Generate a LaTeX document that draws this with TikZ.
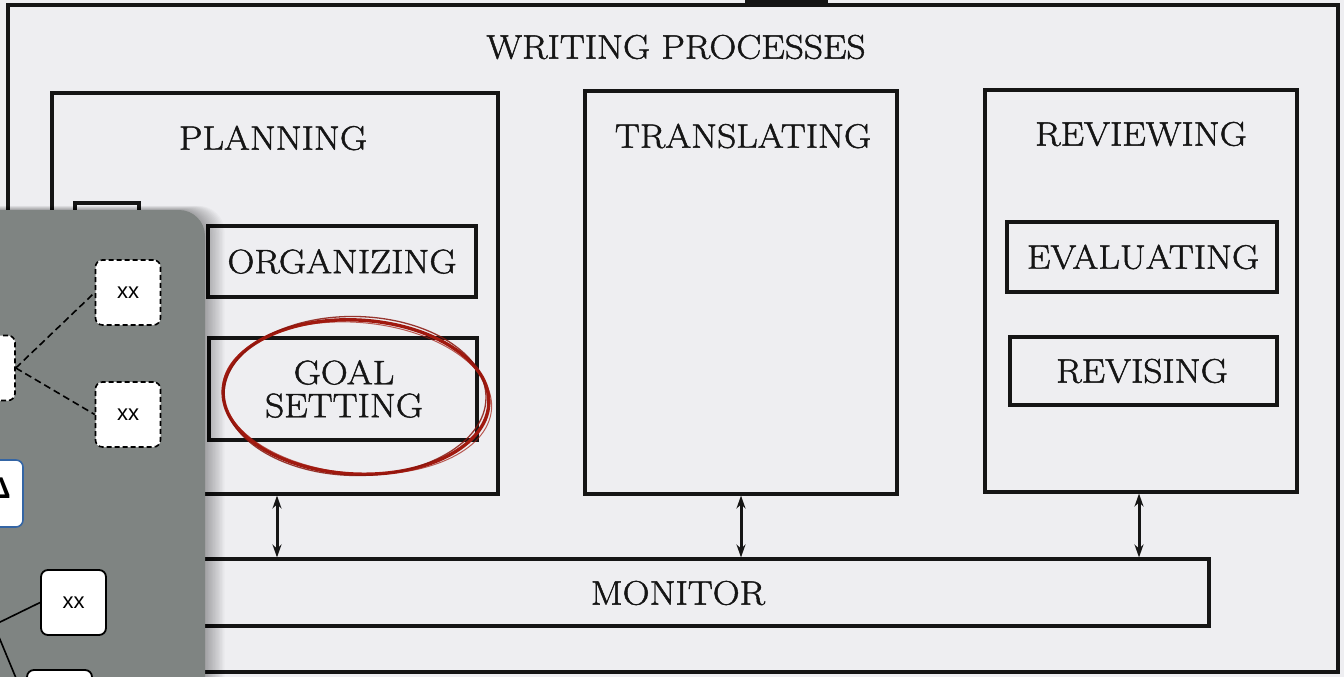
\documentclass[tikz,border=0pt]{standalone}
\usepackage{fontspec}
\setmainfont{Latin Modern Roman}[FakeStretch=1.1, FakeBold=1.4]
\newfontfamily\sansxx{Liberation Sans}
\usetikzlibrary{arrows.meta,calc}
\definecolor{bg}{HTML}{EEEEF1}
\definecolor{ink}{HTML}{151515}
\definecolor{panelgrey}{HTML}{7F8482}
\definecolor{redink}{HTML}{A0190F}
\definecolor{blueedge}{HTML}{3465A4}
\tikzset{
  scanbox/.style={draw=ink, line width=3.1pt, inner sep=0pt},
  lbl/.style={font=\fontsize{34}{34}\selectfont, text=ink, inner sep=0pt, align=center},
  dblarrow/.style={draw=ink, line width=3pt, {Stealth[length=13pt,width=9pt]}-{Stealth[length=13pt,width=9pt]}},
  xxdash/.style={draw=black, dashed, dash pattern=on 5pt off 3pt, line width=1.6pt, fill=white, rounded corners=7pt, minimum width=65pt, minimum height=65pt, inner sep=0pt, font=\sansxx\fontsize{22}{22}\selectfont},
  xxsolid/.style={draw=black, line width=1.8pt, fill=white, rounded corners=7pt, minimum width=65pt, minimum height=65pt, inner sep=0pt, font=\sansxx\fontsize{22}{22}\selectfont},
  xxblue/.style={draw=blueedge, line width=1.6pt, fill=white, rounded corners=7pt, minimum width=68pt, minimum height=67pt, inner sep=0pt},
  link/.style={draw=black, line width=1.6pt},
  dlink/.style={draw=black, line width=1.6pt, dash pattern=on 7pt off 4pt},
}
\begin{document}
\begin{tikzpicture}[x=1pt,y=-1pt]
\useasboundingbox (0,0) rectangle (1344,677);
\clip (0,0) rectangle (1344,677);
\fill[bg] (0,0) rectangle (1344,677);
% scan remnant at top
\fill[ink] (745,-5) rectangle (828,5);

% outer frame
\node[scanbox, minimum width=1330pt, minimum height=667pt] (outer) at (673,338.5) {};
\node[lbl] (title) at (676,47) {WRITING PROCESSES};

% main process boxes
\node[scanbox, minimum width=446pt, minimum height=401pt] (plan) at (275,293.5) {};
\node[scanbox, minimum width=312pt, minimum height=403pt] (trans) at (741,292.5) {};
\node[scanbox, minimum width=312pt, minimum height=402pt] (rev) at (1141,291) {};
\node[lbl] (planlbl) at (273,138) {PLANNING};
\node[lbl] (translbl) at (743,136) {TRANSLATING};
\node[lbl] (revlbl) at (1141,134) {REVIEWING};

% sub-boxes
\node[scanbox, minimum width=64pt, minimum height=56pt] (gen) at (107,231) {};
\node[scanbox, minimum width=268pt, minimum height=71pt] (org) at (342,261.5) {};
\node[lbl] at (org.center) {ORGANIZING};
\node[scanbox, minimum width=268pt, minimum height=102pt] (goal) at (343,389) {};
\node[lbl] at (344,389) {GOAL\\[-1pt]SETTING};
\node[scanbox, minimum width=270pt, minimum height=70pt] (eval) at (1142,257) {};
\node[lbl] at (1143,257) {EVALUATING};
\node[scanbox, minimum width=267pt, minimum height=68pt] (revis) at (1143.5,371) {};
\node[lbl] at (1142,371) {REVISING};

% monitor
\node[scanbox, minimum width=1059pt, minimum height=67pt] (monitor) at (679.5,592.5) {};
\node[lbl] at (678,593) {MONITOR};

% arrows
\coordinate (a1) at (277,0);
\coordinate (a2) at (741,0);
\coordinate (a3) at (1139,0);
\draw[dblarrow] (plan.south -| a1) -- (monitor.north -| a1);
\draw[dblarrow] (trans.south -| a2) -- (monitor.north -| a2);
\draw[dblarrow] (rev.south -| a3) -- (monitor.north -| a3);

% red hand-drawn ellipse
\draw[redink, line width=3.4pt, rotate around={-3:(356,397)}] (356,397) ellipse [x radius=133, y radius=77];
\draw[redink!85!black, line width=1.3pt, opacity=0.85, rotate around={-1:(355,396)}] (355,396) ellipse [x radius=131, y radius=79.5];
\draw[redink, line width=1pt, opacity=0.7, rotate around={-5:(357,398)}] (357,398) ellipse [x radius=135, y radius=75.5];

% overlay panel shadow
\foreach \i in {1,...,14}{
  \fill[black, opacity=0.025, rounded corners=26pt] (-60,{210-\i*0.3}) rectangle ({205+\i*1.4},720);
}
% overlay panel
\fill[panelgrey, rounded corners=26pt] (-60,210) rectangle (205,720);

% overlay nodes
\node[xxdash] (d0) at (-17.5,368) {};
\node[xxdash] (d1) at (128,292.5) {xx};
\node[xxdash] (d2) at (128,414.5) {xx};
\draw[dlink] (d0.east) -- (d1.west);
\draw[dlink] (d0.east) -- (d2.west);

\node[xxblue] (bl) at (-11,493.5) {};
\node[font=\sansxx\bfseries\fontsize{30}{30}\selectfont, anchor=south east, inner sep=0pt] (blt) at (11,499) {Δ};

\coordinate (src) at (-6,625);
\node[xxsolid] (s1) at (73.5,602.5) {xx};
\node[xxsolid] (s2) at (59.5,702.5) {};
\draw[link] (src) -- (s1.west);
\draw[link] (src) -- (s2.west);
\end{tikzpicture}
\end{document}
